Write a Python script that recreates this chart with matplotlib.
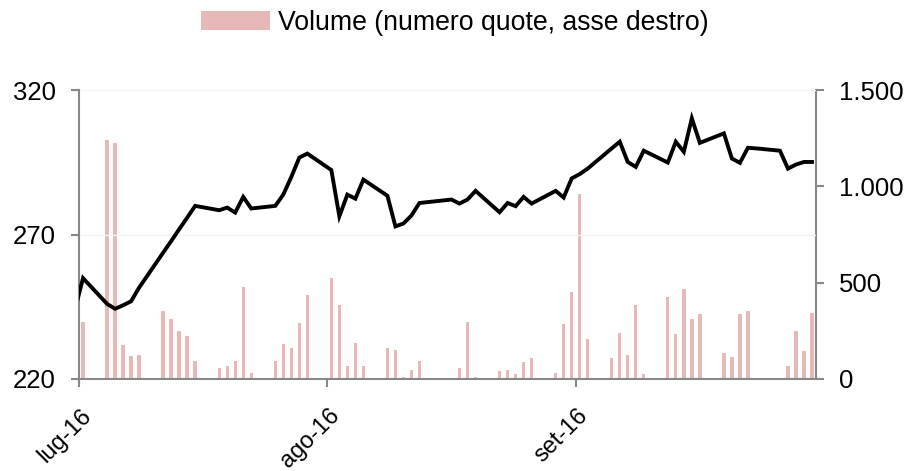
import matplotlib
matplotlib.use("Agg")
import matplotlib.pyplot as plt
import matplotlib.dates as mdates
import matplotlib.transforms as mtransforms
from matplotlib.patches import Patch
import numpy as np
import datetime as dt

plt.rcParams['font.family'] = ['Liberation Sans', 'DejaVu Sans']

# ---- data ----
dates = ["2016-06-30",
         "2016-07-01", "2016-07-04", "2016-07-05", "2016-07-06", "2016-07-07", "2016-07-08",
         "2016-07-11", "2016-07-12", "2016-07-13", "2016-07-14", "2016-07-15",
         "2016-07-18", "2016-07-19", "2016-07-20", "2016-07-21", "2016-07-22",
         "2016-07-25", "2016-07-26", "2016-07-27", "2016-07-28", "2016-07-29",
         "2016-08-01", "2016-08-02", "2016-08-03", "2016-08-04", "2016-08-05",
         "2016-08-08", "2016-08-09", "2016-08-10", "2016-08-11", "2016-08-12",
         "2016-08-16", "2016-08-17", "2016-08-18", "2016-08-19",
         "2016-08-22", "2016-08-23", "2016-08-24", "2016-08-25", "2016-08-26",
         "2016-08-29", "2016-08-30", "2016-08-31", "2016-09-01", "2016-09-02",
         "2016-09-05", "2016-09-06", "2016-09-07", "2016-09-08", "2016-09-09",
         "2016-09-12", "2016-09-13", "2016-09-14", "2016-09-15", "2016-09-16",
         "2016-09-19", "2016-09-20", "2016-09-21", "2016-09-22", "2016-09-23",
         "2016-09-26", "2016-09-27", "2016-09-28", "2016-09-29", "2016-09-30"]

price = [244.0,
         254.9, 246.0, 244.3, 245.5, 246.9, 251.6,
         263.7, 267.7, 271.8, 275.8, 279.9,
         278.4, 279.3, 277.6, 283.0, 279.0,
         279.9, 283.8, 289.9, 296.6, 298.0,
         292.3, 276.3, 283.8, 282.4, 289.0,
         283.4, 272.8, 273.8, 276.6, 280.9,
         282.1, 280.7, 282.1, 285.1,
         277.7, 280.9, 279.8, 283.0, 280.7,
         285.1, 282.8, 289.4, 290.9, 292.8,
         299.8, 302.1, 295.1, 293.4, 299.0,
         294.9, 302.1, 298.6, 310.2, 301.7,
         305.0, 296.3, 294.8, 300.0, 299.8,
         299.0, 292.8, 294.2, 295.1, 295.1]

volume = [0,
          298, 1240, 1226, 177, 121, 125,
          352, 310, 251, 224, 95,
          57, 68, 95, 480, 29,
          95, 182, 163, 290, 434,
          524, 385, 66, 189, 69,
          163, 153, 12, 45, 95,
          0, 59, 295, 12,
          40, 49, 26, 90, 108,
          31, 283, 454, 961, 206,
          108, 241, 125, 383, 28,
          428, 231, 465, 310, 336,
          135, 114, 336, 352, 0,
          0, 69, 248, 144, 345]

tick_dates = ["2016-07-01", "2016-08-01", "2016-09-01"]
tick_labels = ["lug-16", "ago-16", "set-16"]
left_ticks = [220, 270, 320]
right_ticks = [0, 500, 1000, 1500]
right_tick_labels = ["0", "500", "1.000", "1.500"]
legend_label = "Volume (numero quote, asse destro)"

# ---- plot ----
x = np.array([mdates.date2num(dt.datetime.strptime(d, "%Y-%m-%d")) for d in dates]) + 0.5
xt = [mdates.date2num(dt.datetime.strptime(d, "%Y-%m-%d")) for d in tick_dates]
xmin = mdates.date2num(dt.datetime(2016, 7, 1))
xmax = mdates.date2num(dt.datetime(2016, 10, 1))

fig = plt.figure(figsize=(9.09, 4.71), dpi=100)
ax = fig.add_axes([79/909, 1-379/471, (816-79)/909, (379-90)/471])
ax2 = ax.twinx()

bar_color = "#E6B8B7"
ax2.bar(x, volume, width=0.42, color=bar_color, zorder=2)
ax.plot(x, price, color="black", lw=2.8, zorder=3, solid_joinstyle='miter')

ax.set_zorder(ax2.get_zorder() + 1)
ax.patch.set_visible(False)

ax.set_xlim(xmin, xmax)
ax.set_ylim(220, 320)
ax2.set_ylim(0, 1500)

fs = 18.5
ax.set_yticks(left_ticks)
ax.set_yticklabels([str(v) for v in left_ticks])
ax2.set_yticks(right_ticks)
ax2.set_yticklabels(right_tick_labels)
ax.set_xticks(xt)
ax.set_xticklabels(tick_labels, rotation=45, ha='right', va='center',
                   rotation_mode='anchor')

ax.grid(axis='y', color='#F2F2F2', lw=1)
ax.set_axisbelow(True)

gray = "#888888"
for a in (ax, ax2):
    a.spines['top'].set_visible(False)
    for s in ('left', 'right', 'bottom'):
        a.spines[s].set_color(gray)
        a.spines[s].set_linewidth(1.5)
    a.tick_params(colors=gray, labelcolor='black', labelsize=fs, length=5.5, width=1.5, pad=11)
ax.spines['right'].set_visible(False)
ax2.spines['left'].set_visible(False)
ax2.spines['bottom'].set_visible(False)
ax.tick_params(axis='x', labelsize=17, pad=18.5)

shift = mtransforms.ScaledTranslation(0.09, 0, fig.dpi_scale_trans)
for lab in ax.get_xticklabels():
    lab.set_transform(lab.get_transform() + shift)

handle = Patch(facecolor=bar_color, edgecolor='none')
fig.legend([handle], [legend_label], loc='center', bbox_to_anchor=(0.5, 1-23/471),
           frameon=False, fontsize=19.2, handlelength=2.6, handleheight=0.75, handletextpad=0.3)

fig.savefig("out.png", dpi=100)
